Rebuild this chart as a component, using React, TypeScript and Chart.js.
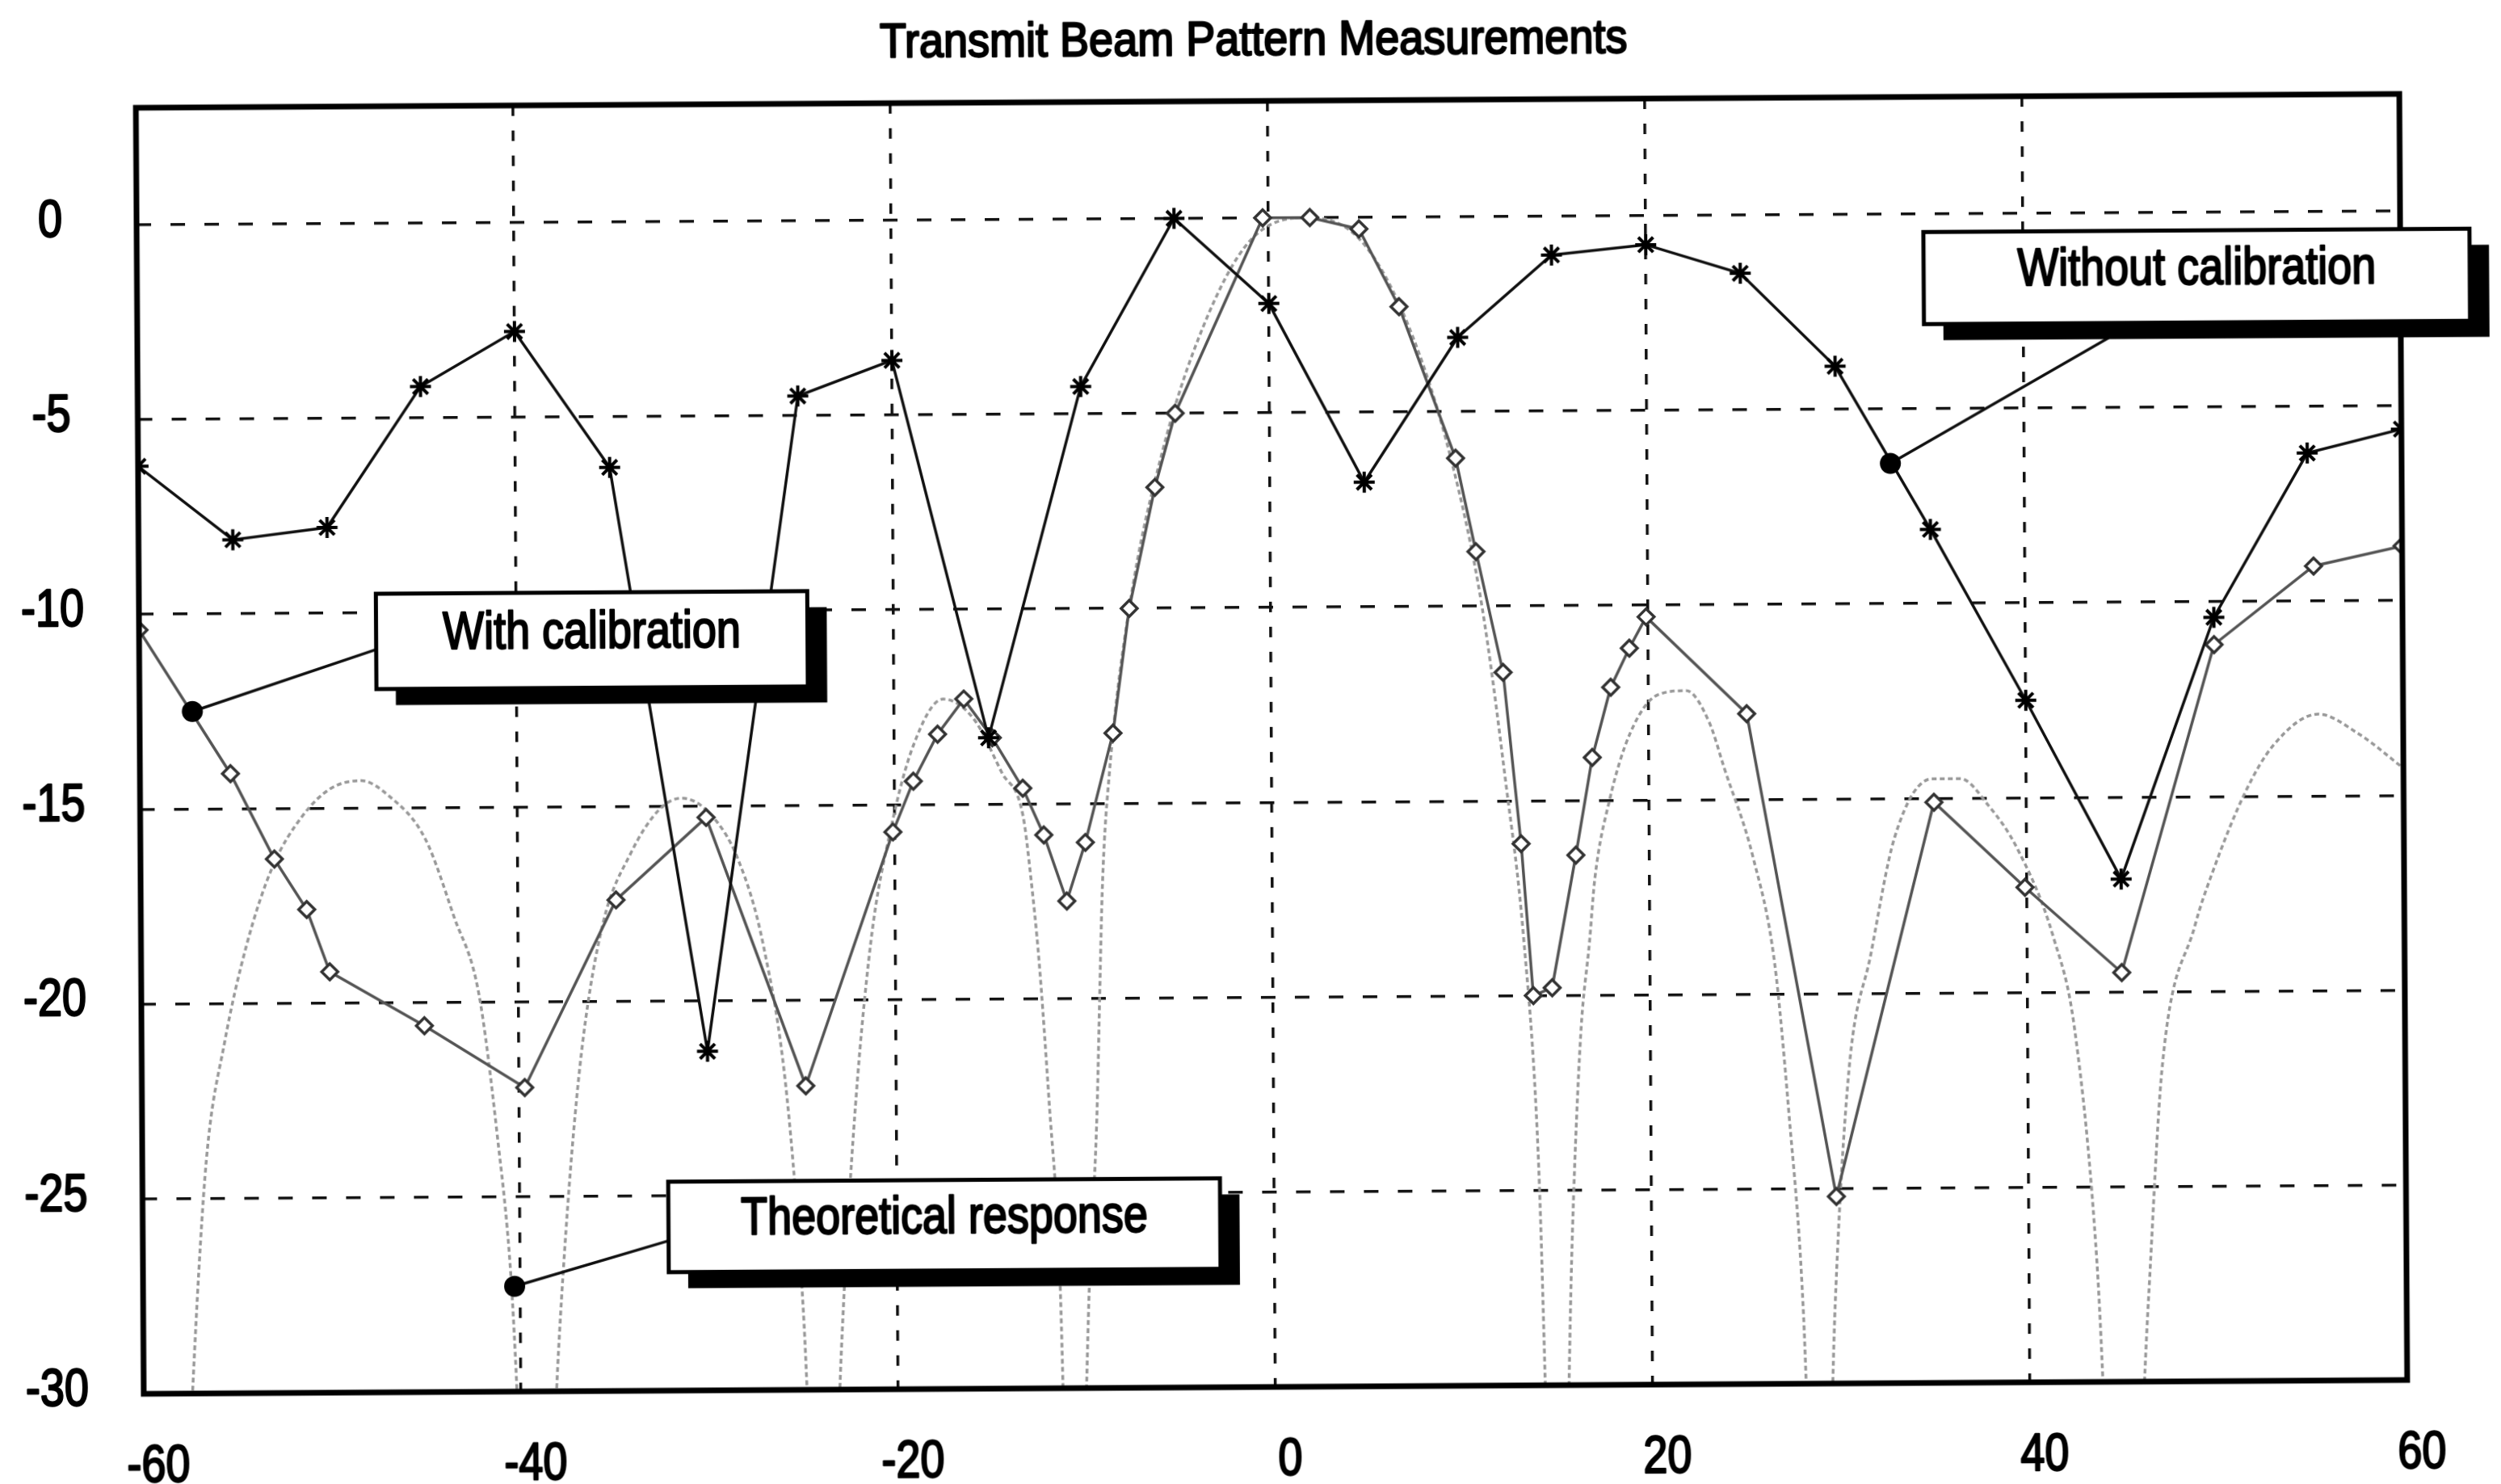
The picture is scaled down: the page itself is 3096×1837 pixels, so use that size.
import React, { useEffect, useRef } from 'react';
import { Chart, registerables } from 'chart.js';

Chart.register(...registerables);

// ---------- text ----------
const TITLE = 'Transmit Beam Pattern Measurements';
const LABEL_WITH = 'With calibration';
const LABEL_WITHOUT = 'Without calibration';
const LABEL_THEORY = 'Theoretical response';

// ---------- axes ----------
const X_MIN = -60;
const X_MAX = 60;
const Y_MIN = -30;
const Y_MAX = 3;
const X_TICKS = [-60, -40, -20, 0, 20, 40, 60];
const Y_TICKS = [-30, -25, -20, -15, -10, -5, 0];

// ---------- series: Without calibration (stars) ----------
const WITHOUT_X = [-60, -55, -50, -45, -40, -35, -30, -25, -20, -15, -10, -5, 0, 5, 10, 15, 20, 25, 30, 35, 40, 45, 50, 55, 60];
const WITHOUT_Y = [-6.2, -8.1, -7.8, -4.2, -2.8, -6.3, -21.3, -4.5, -3.6, -13.3, -4.3, 0, -2.2, -6.8, -3.1, -1.0, -0.75, -1.5, -3.9, -8.1, -12.5, -17.1, -10.4, -6.2, -5.6];

// ---------- series: With calibration (diamonds) ----------
const WITH_X = [-60, -55.2, -52.9, -51.2, -50, -45, -39.7, -34.8, -30, -24.8, -20.1, -19, -17.7, -16.3, -14.8, -13.2, -12.1, -10.9, -9.9, -8.4, -7.5, -6.1, -5, -0.3, 2.2, 4.8, 6.9, 9.85, 10.9, 12.3, 13.2, 13.8, 14.8, 16.1, 17.0, 18.0, 19.0, 19.9, 25.2, 29.8, 35.1, 39.9, 45.0, 50.0, 55.3, 60];
const WITH_Y = [-10.4, -14.1, -16.3, -17.6, -19.2, -20.6, -22.2, -17.4, -15.3, -22.2, -15.7, -14.4, -13.2, -12.3, -13.3, -14.6, -15.8, -17.5, -16.0, -13.2, -10.0, -6.9, -5.0, 0, 0, -0.3, -2.3, -6.2, -8.6, -11.7, -16.1, -20.0, -19.8, -16.4, -13.9, -12.1, -11.1, -10.3, -12.8, -25.2, -15.1, -17.3, -19.5, -11.1, -9.1, -8.6];

// ---------- series: Theoretical response ----------
const THEORY_X = [
  -58.2, -57.3, -56.6, -55.6, -54.4, -53.0, -51.4, -49.9, -48.3, -46.8, -44.9, -43.4, -42.1, -41.2, -40.5, -39.2,
  -38.0, -37.3, -36.6, -35.5, -34.0, -32.5, -31.3, -29.8, -28.3, -27.0, -25.8, -25.0, -24.0,
  -23.0, -22.3, -21.3, -20.2, -19.0, -17.4, -15.8, -14.3, -13.2, -12.8, -12.4, -11.9, -11.4, -10.8,
  -9.8, -9.4, -9.0, -8.6, -7.5, -5.7, -3.5, -1.0, 2.0, 4.9, 7.4, 9.6, 11.2, 12.4, 13.3, 14.0, 14.9,
  15.8, 16.3, 16.8, 17.1, 17.9, 19.0, 20.5, 22.0, 23.2, 24.0, 25.5, 26.6, 27.3, 28.0, 28.8,
  29.7, 30.5, 31.7, 33.0, 35.0, 36.5, 38.0, 39.5, 41.4, 42.5, 43.6, 44.8,
  46.3, 47.1, 48.9, 49.8, 51.6, 53.1, 55.5, 57.6, 60.0,
];
const THEORY_Y = [
  -38, -29, -24, -21, -18.5, -16.5, -15.2, -14.5, -14.3, -14.7, -15.8, -17.8, -19.8, -23.3, -27, -40,
  -29, -24.3, -21.0, -18.0, -16.2, -15.1, -14.8, -15.2, -16.4, -18.6, -22.5, -28, -40,
  -29, -23.5, -18.5, -15.6, -13.5, -12.3, -12.8, -14.2, -15.3, -16.9, -19.0, -22.7, -27, -40,
  -27, -23.3, -17.0, -14.2, -10.0, -6.0, -2.8, -0.6, 0, -0.6, -2.8, -6.2, -10, -14.5, -18.5, -24, -40,
  -26, -21, -18.6, -17, -15, -13.3, -12.3, -12.2, -13.0, -14.2, -16.5, -19.2, -23, -28, -40,
  -28, -22, -19, -16, -14.5, -14.5, -15.2, -16.3, -18.6, -21, -27, -40,
  -28, -22, -18.3, -17, -14.9, -13.7, -12.9, -13.4, -14.3,
];

// ---------- callout anchors (points on the curves, data units) ----------
const ANCHOR_WITH = [-57.2, -12.5];
const ANCHOR_WITHOUT = [32.9, -6.4];
const ANCHOR_THEORY = [-40.3, -27.3];

// ---------- layout / style ----------
const W = 3096;
const H = 1837;
const FONT = "'Liberation Sans', Arial, Helvetica, sans-serif";
const FONT_SIZE = 65;
const NARROW = 0.83;
const TITLE_SIZE = 60;
const TITLE_NARROW = 0.9;

const CALLOUTS = [
  { text: LABEL_WITH, anchor: ANCHOR_WITH, boxX: -36.0, boxY: -10.73, w: 534, h: 118, leadDX: -267, leadDY: 10 },
  { text: LABEL_WITHOUT, anchor: ANCHOR_WITHOUT, boxX: 49.2, boxY: -1.65, w: 676, h: 114, leadDX: -77, leadDY: 57 },
  { text: LABEL_THEORY, anchor: ANCHOR_THEORY, boxX: -17.5, boxY: -25.8, w: 683, h: 112, leadDX: -341, leadDY: 17 },
];

const pts = (xs: number[], ys: number[]) => xs.map((x, i) => ({ x, y: ys[i] }));

function narrowText(ctx: CanvasRenderingContext2D, text: string, x: number, y: number, size: number, squeeze: number) {
  ctx.save();
  ctx.translate(x, y);
  ctx.scale(squeeze, 1);
  ctx.font = `${size}px ${FONT}`;
  ctx.textAlign = 'center';
  ctx.textBaseline = 'middle';
  ctx.fillStyle = '#000';
  ctx.strokeStyle = '#000';
  ctx.lineWidth = 2.4;
  ctx.lineJoin = 'round';
  ctx.fillText(text, 0, 0);
  ctx.strokeText(text, 0, 0);
  ctx.restore();
}

const decorPlugin = {
  id: 'decor',
  beforeDraw(chart: any) {
    const { ctx, width, height } = chart;
    ctx.save();
    ctx.fillStyle = '#ffffff';
    ctx.fillRect(0, 0, width, height);
    ctx.restore();
  },
  afterDatasetsDraw(chart: any) {
    const { ctx, chartArea: a, scales } = chart;
    const xs = scales.x;
    const ys = scales.y;
    ctx.save();
    // frame
    ctx.strokeStyle = '#000';
    ctx.lineWidth = 7;
    ctx.setLineDash([]);
    ctx.strokeRect(a.left, a.top, a.right - a.left, a.bottom - a.top);

    // title
    narrowText(ctx, TITLE, 1557, 51, TITLE_SIZE, TITLE_NARROW);

    // tick labels from the axes' own ticks
    xs.ticks.forEach((t: any) => {
      const label = t.label !== undefined ? String(t.label) : String(t.value);
      narrowText(ctx, label, xs.getPixelForValue(t.value) + 18, a.bottom + 91, FONT_SIZE, NARROW);
    });
    ys.ticks.forEach((t: any) => {
      const label = t.label !== undefined ? String(t.label) : String(t.value);
      narrowText(ctx, label, 66, ys.getPixelForValue(t.value) - 4, FONT_SIZE, NARROW);
    });

    // callouts
    CALLOUTS.forEach((c) => {
      const bx = xs.getPixelForValue(c.boxX);
      const by = ys.getPixelForValue(c.boxY);
      const ax = xs.getPixelForValue(c.anchor[0]);
      const ay = ys.getPixelForValue(c.anchor[1]);
      ctx.strokeStyle = '#111';
      ctx.lineWidth = 3.5;
      ctx.beginPath();
      ctx.moveTo(ax, ay);
      ctx.lineTo(bx + c.leadDX, by + c.leadDY);
      ctx.stroke();
      ctx.fillStyle = '#000';
      ctx.beginPath();
      ctx.arc(ax, ay, 13, 0, Math.PI * 2);
      ctx.fill();
      const l = bx - c.w / 2;
      const t = by - c.h / 2;
      ctx.fillStyle = '#000';
      ctx.fillRect(l + 24, t + 20, c.w, c.h);
      ctx.fillStyle = '#fff';
      ctx.fillRect(l, t, c.w, c.h);
      ctx.strokeStyle = '#000';
      ctx.lineWidth = 5;
      ctx.strokeRect(l, t, c.w, c.h);
      narrowText(ctx, c.text, bx, by - 8, FONT_SIZE, NARROW);
    });
    ctx.restore();
  },
};

export default function App() {
  const ref = useRef<HTMLCanvasElement>(null);
  useEffect(() => {
    const canvas = ref.current;
    if (!canvas) return;
    const chart = new Chart(canvas, {
      type: 'scatter',
      data: {
        datasets: [
          {
            label: LABEL_WITHOUT,
            data: pts(WITHOUT_X, WITHOUT_Y),
            showLine: true,
            borderColor: '#111',
            borderWidth: 3.5,
            pointStyle: 'star',
            pointRadius: 13,
            pointBorderWidth: 4,
            pointBorderColor: '#000',
            pointBackgroundColor: '#000',
            order: 0,
          },
          {
            label: LABEL_WITH,
            data: pts(WITH_X, WITH_Y),
            showLine: true,
            borderColor: '#555',
            borderWidth: 3.5,
            pointStyle: 'rectRot',
            pointRadius: 10,
            pointBorderWidth: 3.5,
            pointBorderColor: '#333',
            pointBackgroundColor: '#fff',
            order: 1,
          },
          {
            label: LABEL_THEORY,
            data: pts(THEORY_X, THEORY_Y),
            showLine: true,
            borderColor: '#999',
            borderWidth: 3.5,
            borderDash: [6, 4],
            pointRadius: 0,
            cubicInterpolationMode: 'monotone',
            order: 2,
          },
        ],
      },
      options: {
        animation: false,
        responsive: false,
        devicePixelRatio: 1,
        layout: { padding: { top: 125, right: 121, bottom: 0, left: 0 } },
        plugins: {
          legend: { display: false },
          tooltip: { enabled: false },
          title: { display: false, text: TITLE },
        },
        scales: {
          x: {
            type: 'linear',
            min: X_MIN,
            max: X_MAX,
            afterBuildTicks: (axis: any) => {
              axis.ticks = X_TICKS.map((v) => ({ value: v }));
            },
            afterFit: (axis: any) => {
              axis.height = 120;
            },
            ticks: { display: false, autoSkip: false, maxRotation: 0 },
            grid: { color: '#111', lineWidth: 3.5, drawTicks: false },
            border: { display: false, dash: [13, 18] },
          },
          y: {
            type: 'linear',
            min: Y_MIN,
            max: Y_MAX,
            afterBuildTicks: (axis: any) => {
              axis.ticks = Y_TICKS.map((v) => ({ value: v }));
            },
            afterFit: (axis: any) => {
              axis.width = 173;
            },
            ticks: { display: false, autoSkip: false },
            grid: { color: '#111', lineWidth: 3.5, drawTicks: false },
            border: { display: false, dash: [18, 24] },
          },
        },
      },
      plugins: [decorPlugin],
    } as any);
    return () => chart.destroy();
  }, []);

  return (
    <div style={{ position: 'fixed', left: 0, top: 0, width: W, height: H, background: '#fff', overflow: 'hidden' }}>
      <canvas
        ref={ref}
        width={W}
        height={H}
        style={{ display: 'block', width: W, height: H, transform: 'rotate(-0.35deg)', transformOrigin: '50% 50%' }}
      />
    </div>
  );
}
